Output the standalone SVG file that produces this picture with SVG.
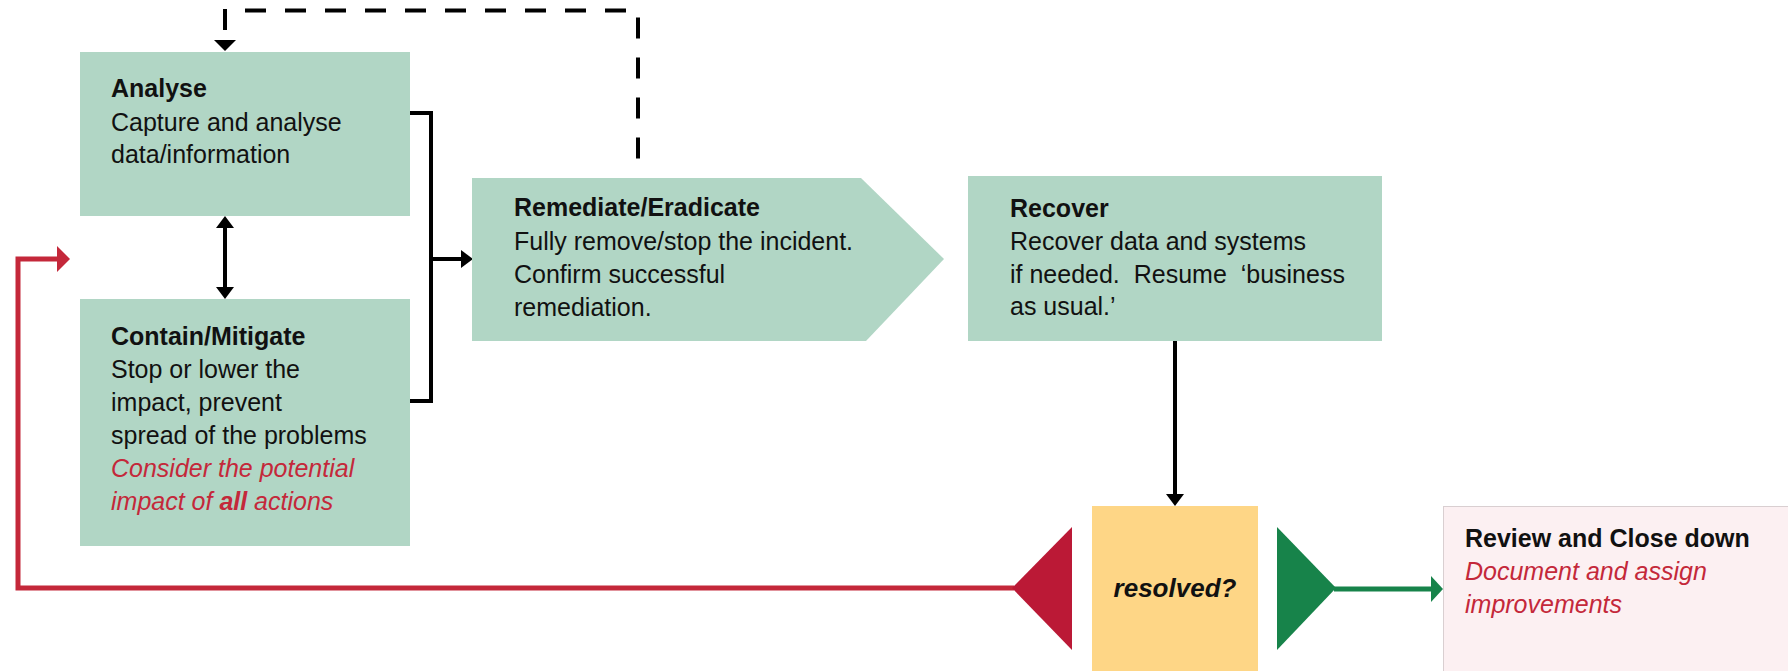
<svg xmlns="http://www.w3.org/2000/svg" width="1788" height="671" viewBox="0 0 1788 671">
<style>
text{font-family:"Liberation Sans",Arial,sans-serif;font-size:25px;fill:#111}
.t{font-weight:bold}
.r{fill:#c4283a;font-style:italic}
.box{fill:#b1d6c5}
.blk{fill:none;stroke:#000;stroke-width:4}
.dash{fill:none;stroke:#000;stroke-width:4;stroke-dasharray:21 19}
.red{fill:none;stroke:#c4283a;stroke-width:5}
.grn{fill:none;stroke:#17834a;stroke-width:5}
</style>
<defs>
<marker id="ab" markerUnits="userSpaceOnUse" markerWidth="12" markerHeight="18" refX="4" refY="9" orient="auto-start-reverse"><path d="M0,0 L12,9 L0,18 z" fill="#000"/></marker>
<marker id="ar" markerUnits="userSpaceOnUse" markerWidth="13" markerHeight="26" refX="5" refY="13" orient="auto"><path d="M0,0 L13,13 L0,26 z" fill="#c4283a"/></marker>
<marker id="ag" markerUnits="userSpaceOnUse" markerWidth="12" markerHeight="26" refX="4" refY="13" orient="auto"><path d="M0,0 L12,13 L0,26 z" fill="#17834a"/></marker>
</defs>

<g id="connectors">
<path class="dash" d="M225,9 V42"/>
<path class="dash" d="M245,10.5 H638 V177"/>
<path class="blk" d="M225,224 V291" marker-start="url(#ab)" marker-end="url(#ab)"/>
<path class="blk" d="M410,113 H431 V401 H410"/>
<path class="blk" d="M431,259 H465" marker-end="url(#ab)"/>
<path class="blk" d="M1175,340 V498" marker-end="url(#ab)"/>
<path class="red" d="M1014,588 H18 V259 H62" marker-end="url(#ar)"/>
<path class="grn" d="M1334,589 H1435" marker-end="url(#ag)"/>
<path d="M225,51 L214,40 L236,40 z" fill="#000"/>
</g>

<g id="analyse">
<rect class="box" x="80" y="52" width="330" height="164"/>
<text x="111" y="97" class="t">Analyse</text>
<text x="111" y="131">Capture and analyse</text>
<text x="111" y="163">data/information</text>
</g>

<g id="contain">
<rect class="box" x="80" y="299" width="330" height="247"/>
<text x="111" y="345" class="t">Contain/Mitigate</text>
<text x="111" y="378">Stop or lower the</text>
<text x="111" y="411">impact, prevent</text>
<text x="111" y="444">spread of the problems</text>
<text x="111" y="477" class="r">Consider the potential</text>
<text x="111" y="510" class="r">impact of <tspan font-weight="bold">all</tspan> actions</text>
</g>

<g id="remediate">
<path class="box" d="M472,178 H861 L944,259 L866,341 H472 z"/>
<text x="514" y="216" class="t">Remediate/Eradicate</text>
<text x="514" y="250">Fully remove/stop the incident.</text>
<text x="514" y="283">Confirm successful</text>
<text x="514" y="316">remediation.</text>
</g>

<g id="recover">
<rect class="box" x="968" y="176" width="414" height="165"/>
<text x="1010" y="217" class="t">Recover</text>
<text x="1010" y="250">Recover data and systems</text>
<text x="1010" y="283" xml:space="preserve">if needed.  Resume  ‘business</text>
<text x="1010" y="315">as usual.’</text>
</g>

<g id="resolved">
<path d="M1012,588 L1072,527 L1072,650 z" fill="#bb1936"/>
<rect x="1092" y="506" width="166" height="165" fill="#fed686"/>
<text x="1175" y="597" text-anchor="middle" font-style="italic" font-weight="bold" style="font-size:26px">resolved?</text>
<path d="M1277,527 L1336,588 L1277,650 z" fill="#17834a"/>
</g>

<g id="review">
<rect x="1443.5" y="506.5" width="350" height="170" fill="#fcf0f2" stroke="#d9cfd1" stroke-width="1"/>
<text x="1465" y="547" class="t">Review and Close down</text>
<text x="1465" y="580" class="r">Document and assign</text>
<text x="1465" y="613" class="r">improvements</text>
</g>
</svg>
